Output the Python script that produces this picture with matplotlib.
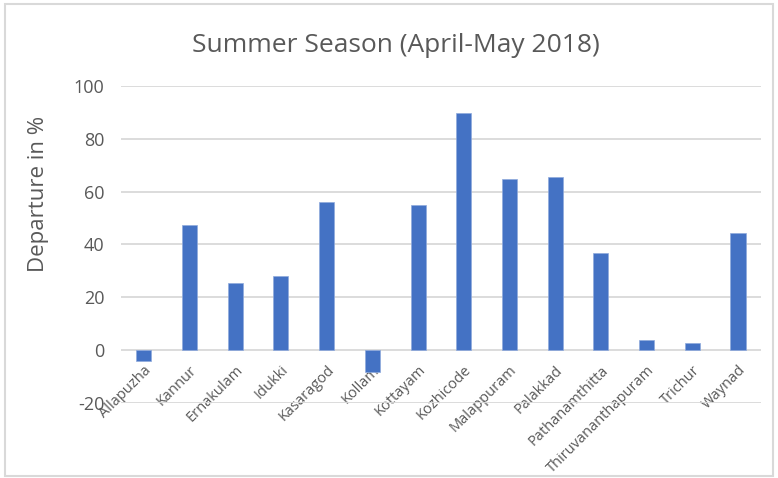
import matplotlib
matplotlib.use('Agg')
import matplotlib.pyplot as plt
import matplotlib.patches as patches
import numpy as np

# Data
districts = ['Allapuzha', 'Kannur', 'Ernakulam', 'Idukki', 'Kasaragod', 'Kollam',
             'Kottayam', 'Kozhicode', 'Malappuram', 'Palakkad', 'Pathanamthitta',
             'Thiruvananthapuram', 'Trichur', 'Waynad']
departure = [-4.2, 47.2, 25.3, 28.1, 56.0, -8.2, 54.9, 89.9, 64.8, 65.6, 36.9, 3.9, 2.6, 44.5]
y_ticks = [-20, 0, 20, 40, 60, 80, 100]

plt.rcParams['font.family'] = ['Open Sans', 'DejaVu Sans']
text_col = '#595959'
grid_col = '#D9D9D9'

fig = plt.figure(figsize=(7.78, 4.78), dpi=100)
ax = fig.add_axes([0.1555, 0.157, 0.8225, 0.663])

x = np.arange(len(districts))
ax.bar(x, departure, width=0.33, color='#4472C4', edgecolor='#8FAADC', linewidth=0.5, zorder=3)

ax.set_xlim(-0.5, len(districts) - 0.5)
ax.set_ylim(-20, 100)
ax.set_yticks(y_ticks)
ax.set_yticklabels([str(v) for v in y_ticks], color=text_col, fontsize=13)
ax.yaxis.grid(True, color=grid_col, linewidth=1.3, zorder=0)
ax.tick_params(axis='y', length=0, pad=12)

# x axis sits at zero, like Excel
ax.spines['bottom'].set_position(('data', 0))
for s in ['top', 'right', 'left', 'bottom']:
    ax.spines[s].set_visible(False)
ax.set_xticks(x)
ax.set_xticklabels(districts, rotation=45, ha='right', va='top',
                   rotation_mode='anchor', color=text_col, fontsize=10.5)
ax.tick_params(axis='x', length=0, pad=9)

fig.text(0.050, 0.594, 'Departure in %', ha='center', va='center', rotation=90,
         color=text_col, fontsize=16)
fig.text(0.509, 0.905, 'Summer Season (April-May 2018)', ha='center', va='center',
         color=text_col, fontsize=19)

# chart border
fig.patches.append(patches.Rectangle((0.007, 0.004), 0.986, 0.987, transform=fig.transFigure,
                                     fill=False, edgecolor=grid_col, linewidth=1.5))

fig.savefig('out.png', dpi=100)
